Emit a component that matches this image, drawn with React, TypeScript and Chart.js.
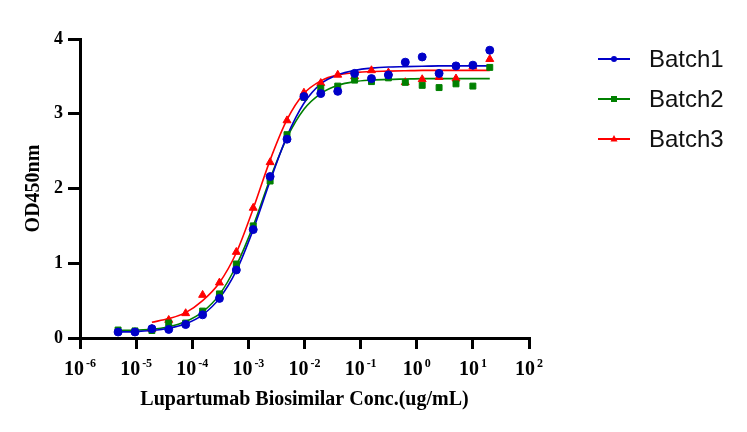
import React, { useEffect, useRef } from "react";
import { Chart, registerables } from "chart.js";

Chart.register(...registerables);

// Twofold dilution series, ug/mL (lowest first)
const concentrations = [
  4.77e-6, 9.54e-6, 1.91e-5, 3.81e-5, 7.63e-5, 1.53e-4, 3.05e-4, 6.1e-4, 1.22e-3, 2.44e-3, 4.88e-3, 9.77e-3,
  0.0195, 0.0391, 0.0781, 0.156, 0.3125, 0.625, 1.25, 2.5, 5, 10, 20,
];

// Measured OD450 values
const batch1Points = [
  0.08, 0.08, 0.125, 0.115, 0.18, 0.31, 0.53, 0.91, 1.45, 2.16, 2.66, 3.23,
  3.27, 3.3, 3.54, 3.47, 3.52, 3.69, 3.76, 3.54, 3.64, 3.65, 3.85,
];
const batch2Points = [
  0.107, 0.095, 0.1, 0.2, 0.2, 0.36, 0.59, 0.99, 1.5, 2.1, 2.72, 3.22,
  3.34, 3.37, 3.45, 3.43, 3.48, 3.42, 3.38, 3.35, 3.4, 3.37, 3.62,
];
// Batch3 has no readings at the two lowest concentrations
const batch3Points = [
  null, null, 0.12, 0.24, 0.33, 0.575, 0.74, 1.15, 1.74, 2.35, 2.91, 3.28,
  3.41, 3.52, 3.5, 3.58, 3.55, 3.42, 3.46, 3.49, 3.47, 3.63, 3.73,
];

// Fitted curves at the same concentrations
const batch1Curve = [
  0.08, 0.085, 0.1, 0.13, 0.19, 0.31, 0.53, 0.9, 1.45, 2.1, 2.7, 3.14,
  3.4, 3.52, 3.58, 3.61, 3.625, 3.63, 3.635, 3.64, 3.64, 3.64, 3.64,
];
const batch2Curve = [
  0.1, 0.105, 0.115, 0.15, 0.22, 0.35, 0.58, 0.97, 1.5, 2.13, 2.68, 3.06,
  3.27, 3.38, 3.43, 3.45, 3.46, 3.465, 3.47, 3.47, 3.47, 3.47, 3.47,
];
const batch3Curve = [
  null, null, 0.21, 0.26, 0.34, 0.5, 0.74, 1.14, 1.73, 2.38, 2.92, 3.27,
  3.44, 3.52, 3.55, 3.565, 3.57, 3.575, 3.58, 3.58, 3.58, 3.58, 3.58,
];

const seriesNames = ["Batch1", "Batch2", "Batch3"];
const seriesColors = ["#0000c8", "#008000", "#ff0000"];
const seriesMarkers = ["circle", "rect", "triangle"];
const markerSizes = [4, 4.2, 4.6];

const decadeExponents = [-6, -5, -4, -3, -2, -1, 0, 1, 2];
const yTickValues = [0, 1, 2, 3, 4];

const serif = "'Liberation Serif', 'Times New Roman', serif";

const toXY = (values: (number | null)[]) =>
  values
    .map((y, i) => ({ x: concentrations[i], y }))
    .filter((p) => p.y !== null) as { x: number; y: number }[];

// draws 10 with a raised exponent under each decade tick
const decadeLabels = {
  id: "decadeLabels",
  afterDraw: (chart: any) => {
    const ctx = chart.ctx;
    const xScale = chart.scales.x;
    const top = xScale.top;
    ctx.save();
    ctx.fillStyle = "#000";
    ctx.textAlign = "left";
    ctx.textBaseline = "alphabetic";
    decadeExponents.forEach((p) => {
      const x = xScale.getPixelForValue(Math.pow(10, p));
      ctx.font = `bold 20px ${serif}`;
      const baseW = ctx.measureText("10").width;
      ctx.font = `bold 12px ${serif}`;
      const expText = String(p);
      const expW = ctx.measureText(expText).width;
      const gap = 2;
      const left = x - (baseW + gap + expW) / 2;
      ctx.font = `bold 20px ${serif}`;
      ctx.fillText("10", left, top + 37);
      ctx.font = `bold 12px ${serif}`;
      ctx.fillText(expText, left + baseW + gap, top + 29);
    });
    ctx.restore();
  },
};

// legend on the right: short line with the marker in the middle
const sideLegend = {
  id: "sideLegend",
  afterDraw: (chart: any) => {
    const ctx = chart.ctx;
    const x0 = chart.chartArea.right + 69;
    const x1 = x0 + 32;
    ctx.save();
    seriesNames.forEach((name, i) => {
      const y = 59 + i * 40;
      ctx.strokeStyle = seriesColors[i];
      ctx.lineWidth = 2;
      ctx.beginPath();
      ctx.moveTo(x0, y);
      ctx.lineTo(x1, y);
      ctx.stroke();
      ctx.fillStyle = seriesColors[i];
      const cx = (x0 + x1) / 2;
      if (seriesMarkers[i] === "circle") {
        ctx.beginPath();
        ctx.arc(cx, y, 3, 0, Math.PI * 2);
        ctx.fill();
      } else if (seriesMarkers[i] === "rect") {
        ctx.fillRect(cx - 3, y - 3, 6, 6);
      } else {
        ctx.beginPath();
        ctx.moveTo(cx, y - 4);
        ctx.lineTo(cx + 3.5, y + 2.5);
        ctx.lineTo(cx - 3.5, y + 2.5);
        ctx.closePath();
        ctx.fill();
      }
      ctx.fillStyle = "#111";
      ctx.font = "24px 'Liberation Sans', Arial, sans-serif";
      ctx.textAlign = "left";
      ctx.textBaseline = "middle";
      ctx.fillText(name, x1 + 19, y + 1);
    });
    ctx.restore();
  },
};

const App: React.FC = () => {
  const chartRef = useRef<HTMLCanvasElement | null>(null);
  const chartInstance = useRef<Chart | null>(null);

  useEffect(() => {
    if (!chartRef.current) return;
    const ctx = chartRef.current.getContext("2d");
    if (!ctx) return;
    if (chartInstance.current) chartInstance.current.destroy();

    const pointSets = [batch1Points, batch2Points, batch3Points];
    const curveSets = [batch1Curve, batch2Curve, batch3Curve];

    const pointDatasets = pointSets.map((values, i) => ({
      label: seriesNames[i],
      data: toXY(values),
      showLine: false,
      pointStyle: seriesMarkers[i] as any,
      pointRadius: markerSizes[i],
      pointBackgroundColor: seriesColors[i],
      pointBorderColor: seriesColors[i],
      pointBorderWidth: 1,
      order: i,
    }));

    const curveDatasets = curveSets.map((values, i) => ({
      label: seriesNames[i] + " fit",
      data: toXY(values),
      showLine: true,
      borderColor: seriesColors[i],
      borderWidth: 1.6,
      pointRadius: 0,
      cubicInterpolationMode: "monotone" as const,
      fill: false,
      order: 3 + i,
    }));

    chartInstance.current = new Chart(ctx, {
      type: "scatter",
      data: { datasets: [...pointDatasets, ...curveDatasets] as any },
      plugins: [decadeLabels, sideLegend],
      options: {
        animation: false,
        responsive: false,
        layout: { padding: { left: 18, top: 39, right: 218, bottom: 16 } },
        plugins: {
          legend: { display: false },
          tooltip: { enabled: false },
        },
        scales: {
          x: {
            type: "logarithmic",
            min: 1e-6,
            max: 1e2,
            afterBuildTicks: (scale: any) => {
              scale.ticks = decadeExponents.map((p) => ({ value: Math.pow(10, p) }));
            },
            afterFit: (scale: any) => {
              scale.height = 78;
            },
            ticks: { display: false },
            grid: {
              drawOnChartArea: false,
              drawTicks: true,
              tickLength: 11,
              lineWidth: 3,
              color: "#000",
            },
            border: { display: true, color: "#000", width: 3 },
            title: {
              display: true,
              text: "Lupartumab Biosimilar Conc.(ug/mL)",
              color: "#000",
              font: { family: serif, size: 20, weight: "bold" },
            },
          },
          y: {
            min: 0,
            max: 4,
            afterBuildTicks: (scale: any) => {
              scale.ticks = yTickValues.map((v) => ({ value: v }));
            },
            afterFit: (scale: any) => {
              scale.width = 62;
            },
            ticks: {
              color: "#000",
              padding: 5,
              font: { family: serif, size: 18, weight: "bold" },
            },
            grid: {
              drawOnChartArea: false,
              drawTicks: true,
              tickLength: 12,
              lineWidth: 3,
              color: "#000",
            },
            border: { display: true, color: "#000", width: 3 },
            title: {
              display: true,
              text: "OD450nm",
              color: "#000",
              font: { family: serif, size: 20, weight: "bold" },
            },
          },
        },
      },
    });

    return () => {
      if (chartInstance.current) {
        chartInstance.current.destroy();
        chartInstance.current = null;
      }
    };
  }, []);

  return (
    <div style={{ position: "fixed", left: 0, top: 0, width: 747, height: 432, background: "#fff" }}>
      <canvas ref={chartRef} width={747} height={432} style={{ display: "block" }} />
    </div>
  );
};

export default App;
